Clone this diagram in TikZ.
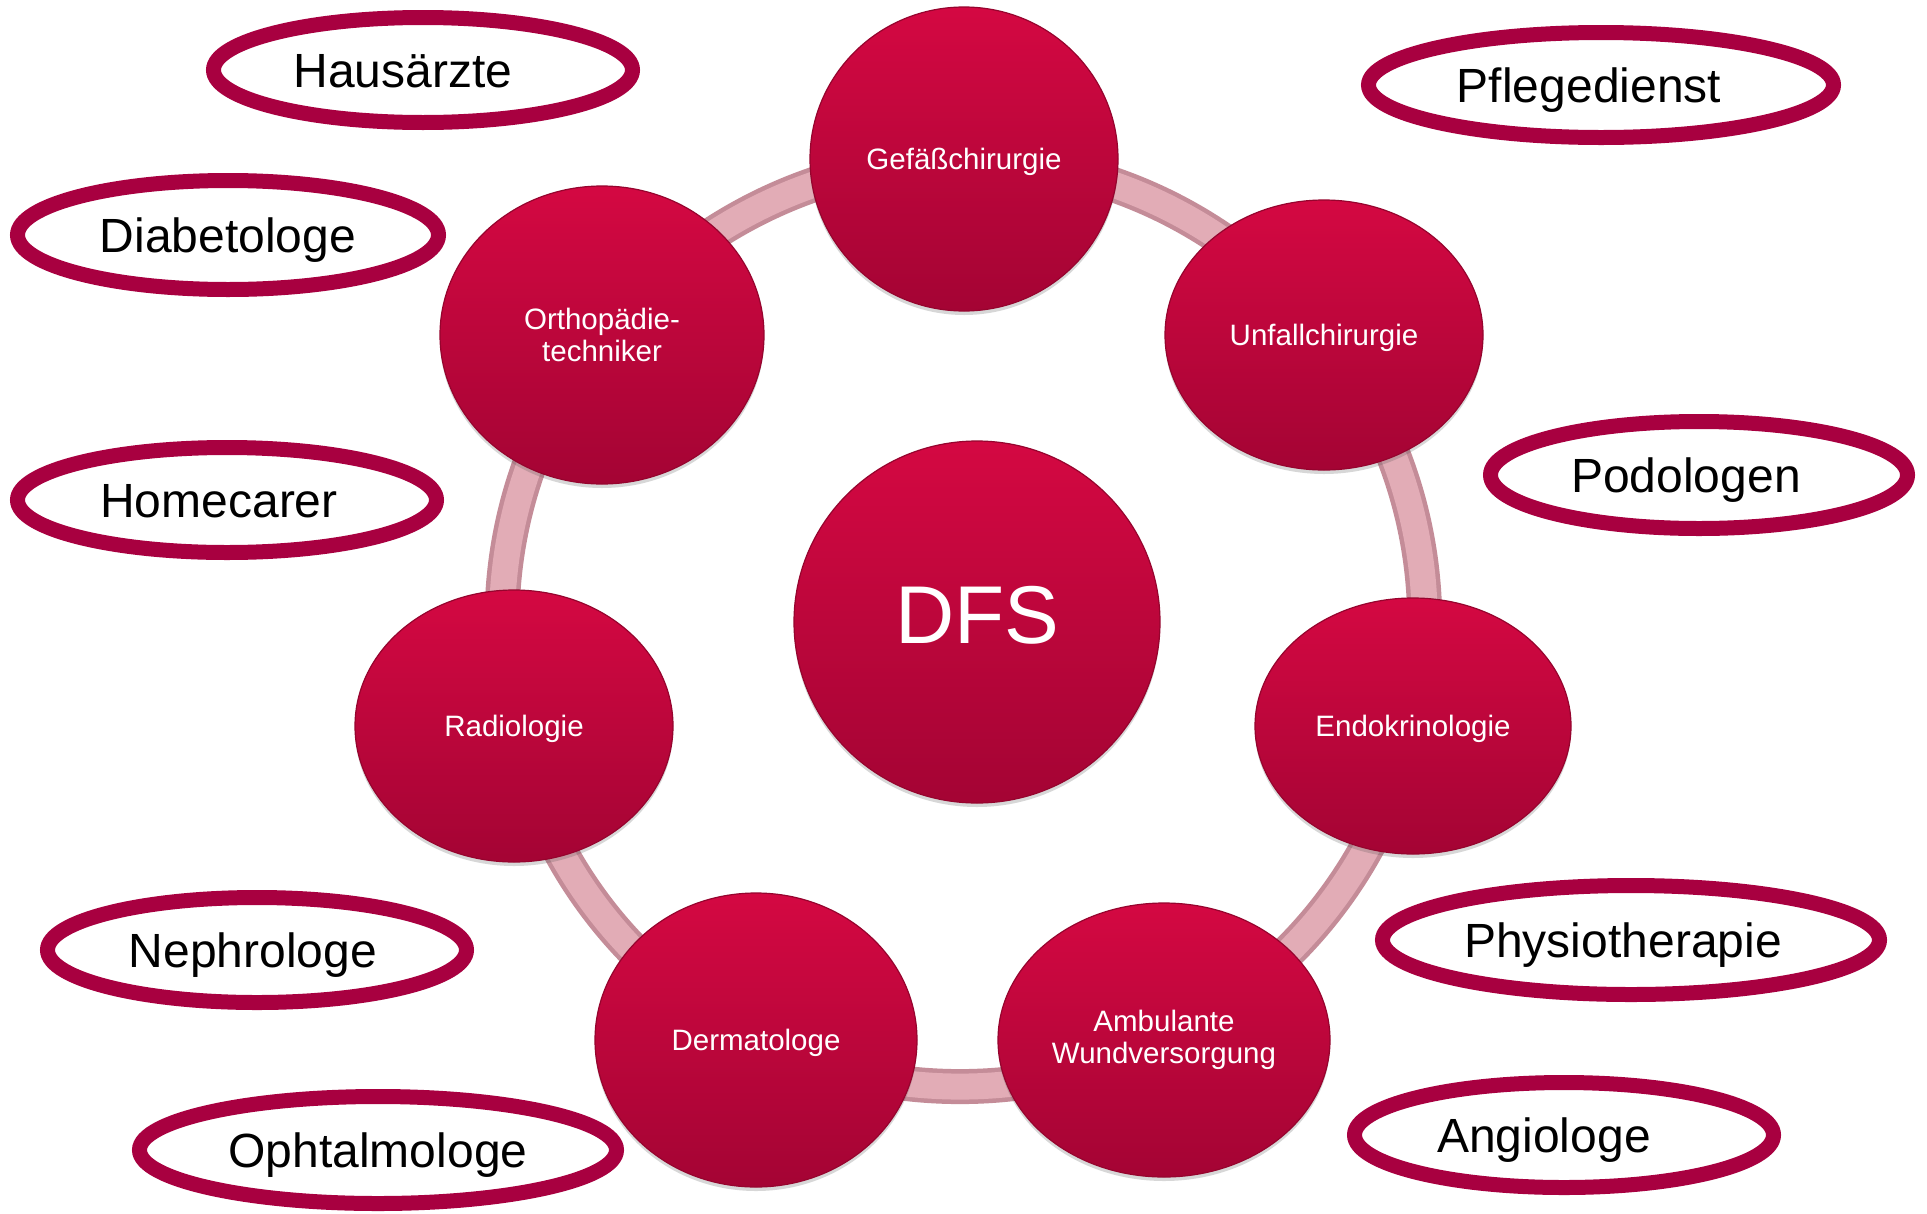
\documentclass[tikz,border=0pt]{standalone}
\usepackage{fontspec}
\setmainfont{Liberation Sans}
\usetikzlibrary{shapes.geometric,shadows}
\pgfdeclarelayer{background}
\pgfsetlayers{background,main}
\definecolor{circtop}{RGB}{212,8,66}
\definecolor{circbot}{RGB}{164,4,52}
\definecolor{circedge}{RGB}{150,4,46}
\definecolor{ovalred}{RGB}{168,0,64}
\definecolor{ringdark}{RGB}{196,140,152}
\definecolor{ringlight}{RGB}{226,172,182}
\begin{document}
\begin{tikzpicture}[x=1pt,y=-1pt,
  bubble/.style={ellipse, inner sep=0pt, top color=circtop, bottom color=circbot,
    draw=circedge, line width=1.2pt, text=white, align=center,
    font=\fontsize{29.5}{32}\selectfont,
    drop shadow={shadow xshift=0pt, shadow yshift=-4pt, opacity=0.22, fill=black!70}},
  oneline/.style={text height=21pt, text depth=0pt},
  oval/.style={ellipse, inner sep=0pt, draw=ovalred, line width=15pt, fill=white,
    font=\fontsize{48}{52}\selectfont, text height=34pt, text depth=0pt},
  ringlink/.style={line width=35pt, draw=ringdark, bend left=25.7, looseness=0.9,
    postaction={draw=ringlight, line width=26pt}}]
\useasboundingbox (0,0) rectangle (1927,1213);

% central node
\node[bubble, minimum width=366, minimum height=362, font=\fontsize{82}{90}\selectfont,
  text height=59pt, text depth=16pt] (dfs) at (977,622) {DFS};

% ring nodes
\node[bubble, oneline, minimum width=308, minimum height=304] (gef) at (964,159) {Gefäßchirurgie};
\node[bubble, oneline, minimum width=318, minimum height=270] (unf) at (1324,335) {Unfallchirurgie};
\node[bubble, oneline, minimum width=316, minimum height=256] (endo) at (1413,726) {Endokrinologie};
\node[bubble, minimum width=332, minimum height=274] (amb) at (1164,1040) {Ambulante\\Wundversorgung};
\node[bubble, oneline, minimum width=322, minimum height=294] (derm) at (756,1040) {Dermatologe};
\node[bubble, oneline, minimum width=318, minimum height=272] (radio) at (514,726) {Radiologie};
\node[bubble, minimum width=324, minimum height=298] (ortho) at (602,335) {Orthopädie-\\techniker};

% background and ring connectors
\begin{pgfonlayer}{background}
\fill[white] (0,0) rectangle (1927,1213);
\draw[ringlink] (gef.center) to (unf.center);
\draw[ringlink] (unf.center) to (endo.center);
\draw[ringlink] (endo.center) to (amb.center);
\draw[ringlink] (amb.center) to (derm.center);
\draw[ringlink] (derm.center) to (radio.center);
\draw[ringlink] (radio.center) to (ortho.center);
\draw[ringlink] (ortho.center) to (gef.center);
\end{pgfonlayer}

% outer ovals
\node[oval, minimum width=419, minimum height=105] (haus) at (423,70) {Hausärzte\hspace*{40pt}};
\node[oval, minimum width=465, minimum height=105] (pflege) at (1601,85) {Pflegedienst\hspace*{24pt}};
\node[oval, minimum width=421, minimum height=109] (diab) at (228,235) {Diabetologe};
\node[oval, minimum width=419, minimum height=105] (home) at (227,500) {Homecarer\hspace*{16pt}};
\node[oval, minimum width=417, minimum height=107] (podo) at (1699,475) {Podologen\hspace*{26pt}};
\node[oval, minimum width=419, minimum height=105] (nephro) at (257,950) {Nephrologe\hspace*{8pt}};
\node[oval, minimum width=497, minimum height=109] (physio) at (1631,940) {Physiotherapie\hspace*{16pt}};
\node[oval, minimum width=477, minimum height=107] (ophta) at (378,1150) {Ophtalmologe};
\node[oval, minimum width=419, minimum height=105] (angio) at (1564,1135) {Angiologe\hspace*{40pt}};
\end{tikzpicture}
\end{document}
